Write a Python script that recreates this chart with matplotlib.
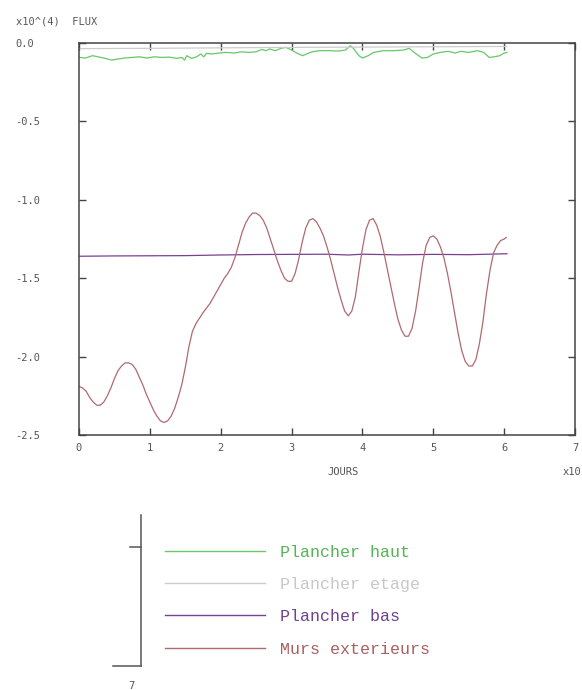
import numpy as np
import matplotlib.pyplot as plt
from matplotlib.lines import Line2D

# temps (x10^4 s ... affiche en "JOURS") et flux (x10^4)
murs_x = [0.00, 0.05, 0.10, 0.15, 0.20, 0.25, 0.30, 0.35, 0.40, 0.45,
          0.50, 0.55, 0.60, 0.65, 0.70, 0.75, 0.80, 0.85, 0.90, 0.95,
          1.00, 1.05, 1.10, 1.15, 1.20, 1.25, 1.30, 1.35, 1.40, 1.45,
          1.50, 1.55, 1.60, 1.65, 1.70, 1.75, 1.80, 1.85, 1.90, 1.95,
          2.00, 2.05, 2.10, 2.15, 2.20, 2.25, 2.30, 2.35, 2.40, 2.45,
          2.50, 2.55, 2.60, 2.65, 2.70, 2.75, 2.80, 2.85, 2.90, 2.95,
          3.00, 3.05, 3.10, 3.15, 3.20, 3.25, 3.30, 3.35, 3.40, 3.45,
          3.50, 3.55, 3.60, 3.65, 3.70, 3.75, 3.80, 3.85, 3.90, 3.95,
          4.00, 4.05, 4.10, 4.15, 4.20, 4.25, 4.30, 4.35, 4.40, 4.45,
          4.50, 4.55, 4.60, 4.65, 4.70, 4.75, 4.80, 4.85, 4.90, 4.95,
          5.00, 5.05, 5.10, 5.15, 5.20, 5.25, 5.30, 5.35, 5.40, 5.45,
          5.50, 5.55, 5.60, 5.65, 5.70, 5.75, 5.80, 5.85, 5.90, 5.95,
          6.00, 6.03]
murs_y = [-2.19, -2.20, -2.22, -2.26, -2.29, -2.31, -2.31, -2.29, -2.25, -2.20,
          -2.14, -2.09, -2.06, -2.04, -2.04, -2.05, -2.08, -2.13, -2.18, -2.24,
          -2.29, -2.34, -2.38, -2.41, -2.42, -2.41, -2.38, -2.33, -2.26, -2.18,
          -2.07, -1.94, -1.84, -1.79, -1.755, -1.72, -1.69, -1.66, -1.62, -1.58,
          -1.54, -1.50, -1.47, -1.43, -1.37, -1.29, -1.21, -1.15, -1.11, -1.085,
          -1.085, -1.10, -1.13, -1.18, -1.25, -1.32, -1.39, -1.45, -1.50, -1.52,
          -1.52, -1.47, -1.38, -1.27, -1.18, -1.13, -1.12, -1.14, -1.18, -1.23,
          -1.30, -1.38, -1.47, -1.56, -1.64, -1.71, -1.74, -1.71, -1.62, -1.46,
          -1.31, -1.19, -1.13, -1.12, -1.16, -1.23, -1.33, -1.44, -1.55, -1.66,
          -1.76, -1.83, -1.87, -1.87, -1.82, -1.71, -1.56, -1.40, -1.29, -1.24,
          -1.23, -1.25, -1.30, -1.37, -1.47, -1.59, -1.72, -1.85, -1.96, -2.03,
          -2.06, -2.06, -2.02, -1.92, -1.78, -1.60, -1.45, -1.34, -1.29, -1.26,
          -1.25, -1.24]

haut_x = [0.01, 0.09, 0.19, 0.27, 0.35, 0.46, 0.54, 0.64, 0.75, 0.85,
          0.96, 1.06, 1.17, 1.27, 1.38, 1.45, 1.49, 1.52, 1.59, 1.66,
          1.72, 1.76, 1.80, 1.87, 1.98, 2.08, 2.19, 2.29, 2.40, 2.50,
          2.58, 2.64, 2.69, 2.77, 2.85, 2.92, 3.00, 3.08, 3.16, 3.21,
          3.29, 3.40, 3.53, 3.66, 3.76, 3.83, 3.88, 3.95, 4.00, 4.08,
          4.16, 4.29, 4.45, 4.58, 4.66, 4.73, 4.84, 4.92, 5.00, 5.10,
          5.21, 5.31, 5.39, 5.50, 5.63, 5.71, 5.79, 5.86, 5.94, 5.99, 6.04]
haut_y = [-0.092, -0.096, -0.081, -0.088, -0.096, -0.109, -0.103, -0.096, -0.092, -0.088,
          -0.096, -0.088, -0.092, -0.090, -0.098, -0.092, -0.109, -0.081, -0.098, -0.088,
          -0.070, -0.088, -0.066, -0.070, -0.064, -0.060, -0.064, -0.056, -0.060, -0.056,
          -0.041, -0.049, -0.038, -0.049, -0.034, -0.028, -0.045, -0.066, -0.081, -0.070,
          -0.056, -0.049, -0.049, -0.051, -0.045, -0.017, -0.038, -0.081, -0.096, -0.081,
          -0.060, -0.049, -0.049, -0.045, -0.034, -0.060, -0.096, -0.092, -0.070, -0.060,
          -0.053, -0.064, -0.053, -0.060, -0.049, -0.060, -0.092, -0.088, -0.081, -0.066, -0.060]

etage_x = [0.0, 1.0, 2.0, 3.0, 4.0, 5.0, 6.04]
etage_y = [-0.036, -0.034, -0.031, -0.028, -0.026, -0.024, -0.022]

bas_x = [0.0, 0.5, 1.0, 1.5, 2.0, 2.5, 3.0, 3.5, 3.8, 4.0, 4.5, 5.0, 5.5, 6.04]
bas_y = [-1.360, -1.358, -1.357, -1.356, -1.352, -1.349, -1.348, -1.347, -1.352, -1.347,
         -1.351, -1.348, -1.350, -1.344]

labels = ['Plancher haut', 'Plancher etage', 'Plancher bas', 'Murs exterieurs']
line_cols = ['#66c866', '#cccccc', '#7a4090', '#b06a6e']
text_cols = ['#55b455', '#c8c8c8', '#6e4090', '#a86060']

mono = 'DejaVu Sans Mono'
W, H = 582, 690
fig = plt.figure(figsize=(5.82, 6.9), dpi=100)
ax = fig.add_axes([79/W, 1-435/H, 496/W, 392/H])

ax.plot(haut_x, haut_y, color=line_cols[0], lw=0.9)
ax.plot(etage_x, etage_y, color=line_cols[1], lw=0.9)
ax.plot(bas_x, bas_y, color=line_cols[2], lw=0.9)
ax.plot(murs_x, murs_y, color=line_cols[3], lw=0.9)

ax.set_xlim(0, 7)
ax.set_ylim(-2.5, 0)
ax.set_xticks(range(8))
ax.set_yticks([0.0, -0.5, -1.0, -1.5, -2.0, -2.5])
ax.set_yticklabels(['0.0', '-0.5', '-1.0', '-1.5', '-2.0', '-2.5'])
ax.tick_params(direction='in', top=True, right=True, length=5, width=1,
               color='#444444', labelcolor='#555555', labelsize=7.5)
ax.tick_params(axis='y', pad=46)
for t in ax.get_yticklabels():
    t.set_horizontalalignment('left')
    t.set_family(mono)
for t in ax.get_xticklabels():
    t.set_family(mono)
ax.tick_params(axis='x', pad=6)
for s in ax.spines.values():
    s.set_color('#444444')
    s.set_linewidth(1.1)

fig.text(16/W, 1-21/H, 'x10^(4)  FLUX', family=mono, fontsize=7.5,
         color='#555555', va='center')
fig.text(343/W, 1-472/H, 'JOURS', family=mono, fontsize=7.5,
         color='#555555', va='center', ha='center')
fig.text(563/W, 1-472/H, 'x10', family=mono, fontsize=7.5,
         color='#555555', va='center')

# cadre de la legende
fig.add_artist(Line2D([141/W, 141/W], [1-515/H, 1-666/H], color='#555555', lw=1.1))
fig.add_artist(Line2D([113/W, 141/W], [1-666/H, 1-666/H], color='#555555', lw=1.1))
fig.add_artist(Line2D([130/W, 141/W], [1-547/H, 1-547/H], color='#555555', lw=1.1))
fig.text(131/W, 1-686/H, '7', family=mono, fontsize=7.5, color='#555555',
         va='center', ha='center')

handles = [Line2D([], [], color=c, lw=1.0) for c in line_cols]
leg = fig.legend(handles, labels, loc='upper left',
                 bbox_to_anchor=(165/W, 1-545/H), frameon=False,
                 borderpad=0, borderaxespad=0, handlelength=6.0,
                 handletextpad=0.9, labelspacing=1.03,
                 prop={'family': 'Liberation Mono', 'size': 12})
for t, c in zip(leg.get_texts(), text_cols):
    t.set_color(c)

fig.savefig('out.png', dpi=100)
